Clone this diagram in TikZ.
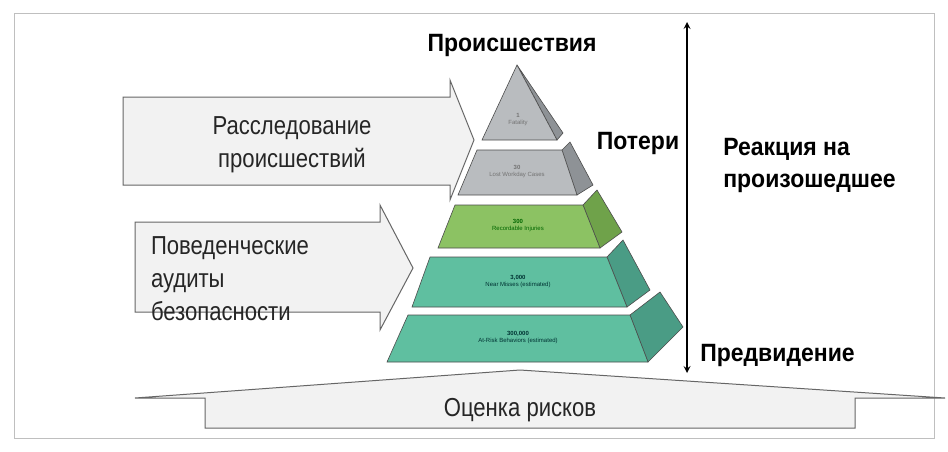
\documentclass[tikz,border=0pt]{standalone}
\usepackage{fontspec}
\setmainfont{Liberation Sans}
\begin{document}
\begin{tikzpicture}[x=1pt,y=-1pt,
  lbl/.style={font=\fontsize{25}{32}\selectfont\bfseries, text=black, xscale=0.92},
  reg/.style={font=\fontsize{26}{33}\selectfont, text=black!85, xscale=0.85},
  tiny/.style={font=\fontsize{6}{7}\selectfont, align=center},
  arr/.style={draw=black!60, line width=1pt, fill=black!5},
  face/.style={draw=black!70, line width=0.6pt}]
\useasboundingbox (0,0) rectangle (948,451);
\fill[white] (0,0) rectangle (948,451);
\node[draw=black!25, line width=1pt, minimum width=920, minimum height=425, inner sep=0] (frame) at (474,226) {};
% left arrows
\draw[arr] (123,97) -- (450,97) -- (450,80) -- (474,140) -- (450,200) -- (450,185) -- (123,185) -- cycle;
\draw[arr] (135,222) -- (380,222) -- (380,205) -- (413,268) -- (380,330) -- (380,312) -- (135,312) -- cycle;
\node[reg, align=center] (inv) at (292,145) {Расследование\\происшествий};
\node[reg, align=left, anchor=west] (aud) at (148,279) {Поведенческие\\аудиты\\безопасности};
% pyramid
\definecolor{g1f}{HTML}{B9BCBF}\definecolor{g1s}{HTML}{8E9296}
\definecolor{grf}{HTML}{8CC263}\definecolor{grs}{HTML}{6FA24A}
\definecolor{tlf}{HTML}{5FBFA0}\definecolor{tls}{HTML}{4A9C85}
\draw[face, fill=g1s] (517,65) -- (563,133) -- (557,140) -- cycle;
\draw[face, fill=g1f] (517,65) -- (557,140) -- (482,140) -- cycle;
\draw[face, fill=g1s] (562,150) -- (570,142) -- (593,185) -- (577,195) -- cycle;
\draw[face, fill=g1f] (477,150) -- (562,150) -- (577,195) -- (458,195) -- cycle;
\draw[face, fill=grs] (583,205) -- (597,190) -- (622,232) -- (600,248) -- cycle;
\draw[face, fill=grf] (455,205) -- (583,205) -- (600,248) -- (438,248) -- cycle;
\draw[face, fill=tls] (607,257) -- (623,240) -- (650,290) -- (627,307) -- cycle;
\draw[face, fill=tlf] (430,257) -- (607,257) -- (627,307) -- (412,307) -- cycle;
\draw[face, fill=tls] (630,315) -- (660,292) -- (683,327) -- (648,362) -- cycle;
\draw[face, fill=tlf] (408,315) -- (630,315) -- (648,362) -- (387,362) -- cycle;
\node[tiny, text=black!55] (t1) at (518,120) {\textbf{1}\\Fatality};
\node[tiny, text=black!55] (t2) at (517,172) {\textbf{30}\\Lost Workday Cases};
\node[tiny, text=black!60!green] (t3) at (518,226) {\textbf{300}\\Recordable Injuries};
\node[tiny, text=black!60!teal] (t4) at (518,282) {\textbf{3,000}\\Near Misses (estimated)};
\node[tiny, text=black!60!teal] (t5) at (518,338) {\textbf{300,000}\\At-Risk Behaviors (estimated)};
% bottom
\draw[arr] (135,398) -- (520,370) -- (945,398) -- (855,398) -- (855,428) -- (205,428) -- (205,398) -- cycle;
\node[reg] (risk) at (520,410) {Оценка рисков};
% vertical arrow
\coordinate (vt) at (687,22);
\coordinate (vb) at (687,373);
\draw[line width=2pt, <->, >=stealth] (vt) -- (vb);
\node[lbl] (inc) at (512,45) {Происшествия};
\node[lbl] (loss) at (638,143) {Потери};
\node[lbl, align=left, anchor=west] (react) at (720,165) {Реакция на\\произошедшее};
\node[lbl, anchor=west] (fore) at (697,355) {Предвидение};
\end{tikzpicture}
\end{document}
